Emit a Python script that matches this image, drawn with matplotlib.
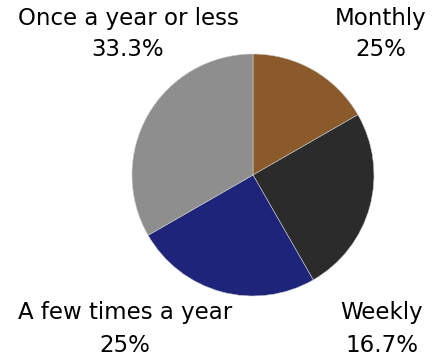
import matplotlib
matplotlib.use("Agg")
import matplotlib.pyplot as plt

labels = ["Weekly", "Monthly", "A few times a year", "Once a year or less"]
shares = [16.7, 25, 25, 33.3]
colors = ["#8a5a2b", "#2b2b2b", "#1d2479", "#8e8e8e"]

# label corners: (x, y of name line) in pixel-like data coords, y up
corners = {
    "Once a year or less": (128, 342),
    "Monthly": (381, 342),
    "A few times a year": (125, 47),
    "Weekly": (382, 47),
}

fig = plt.figure(figsize=(4.38, 3.6), dpi=100)
ax = fig.add_axes([0, 0, 1, 1])

ax.pie(shares, colors=colors, startangle=90, counterclock=False,
       center=(253, 185), radius=121, frame=True,
       wedgeprops=dict(linewidth=0.4, edgecolor="#cccccc"))
ax.set_xlim(0, 438)
ax.set_ylim(0, 360)
ax.axis("off")

for name, val in zip(labels, shares):
    x, y = corners[name]
    ax.text(x, y, name, ha="center", va="center", fontsize=16.5,
            family="DejaVu Sans", color="#000000")
    ax.text(x, y - 32, "{:g}%".format(val), ha="center", va="center",
            fontsize=16.5, family="DejaVu Sans", color="#000000")

fig.savefig("out.png", dpi=100)
